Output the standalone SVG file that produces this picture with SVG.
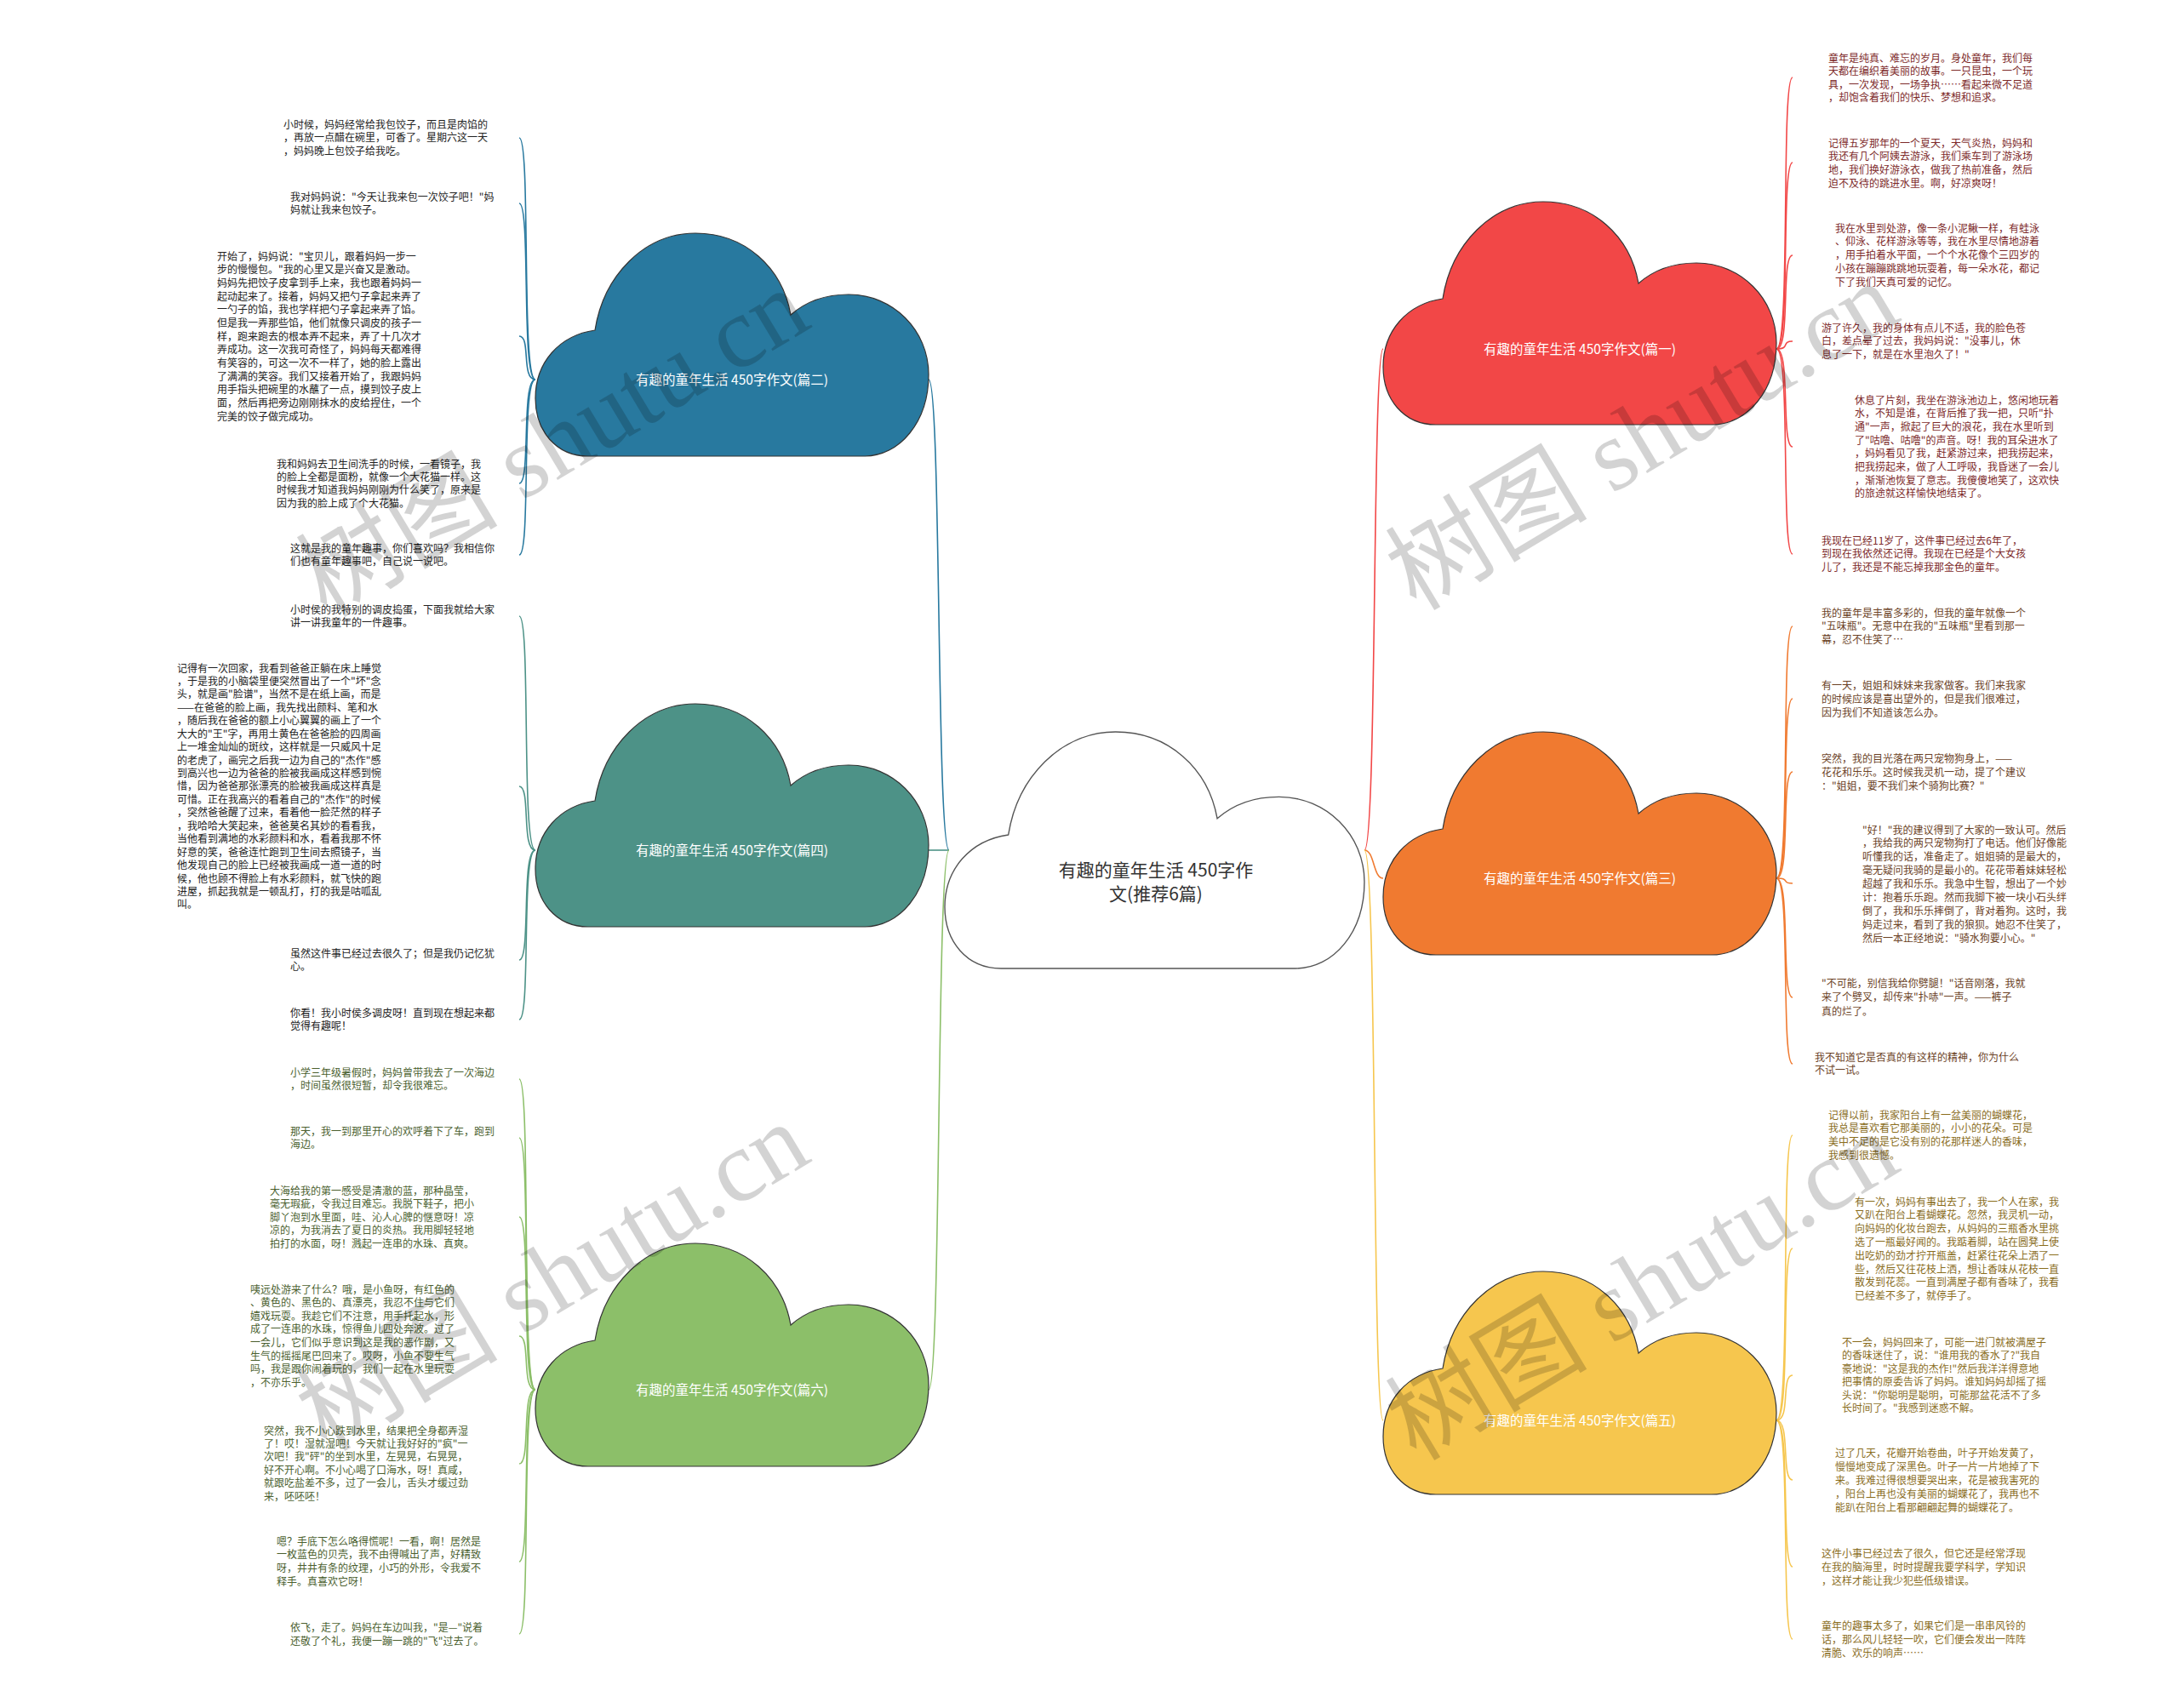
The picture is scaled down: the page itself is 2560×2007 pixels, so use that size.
<svg xmlns="http://www.w3.org/2000/svg" xmlns:xlink="http://www.w3.org/1999/xlink" width="2560" height="2007" viewBox="0 0 2560 2007">
<defs>
<style>
.t{font-family:"Noto Sans CJK SC","Noto Sans",sans-serif;font-size:12px}
.lbl{font-family:"Noto Sans CJK SC","Noto Sans",sans-serif;font-size:15.5px;fill:#fff;text-anchor:middle}
.ctr{font-family:"Noto Sans CJK SC","Noto Sans",sans-serif;font-size:21px;fill:#333;text-anchor:middle}
.cl{stroke:#333;stroke-width:1.2}
.c2{fill:#222}.c4{fill:#222}.c6{fill:#4b5f2f}
.c1{fill:#7d2a2a}.c3{fill:#6b4226}.c5{fill:#8a6d1d}
.ln{fill:none;stroke-width:1.6}
.wm{font-family:"Liberation Serif","Noto Sans CJK SC",serif;font-size:119px;fill:#000;opacity:.17;text-anchor:middle}
</style>
<path id="cloud" d="M 62 262 C 24 262 0 232 0 194 C 0 152 28 120 70 114 C 80 50 128 0 188 0 C 246 0 290 40 300 96 C 318 80 342 72 368 72 C 420 72 462 114 462 166 C 462 222 428 262 386 262 Z"/>
</defs>
<rect width="2560" height="2007" fill="#fff"/>

<g id="connectors">
<path class="ln" stroke="#28799f" stroke-width="2" d="M 1115 999 C 1100 999 1106 446 1091 446"/>
<path class="ln" stroke="#4d9287" stroke-width="2" d="M 1115 999 C 1103 999 1103 999 1091 999"/>
<path class="ln" stroke="#8cbf69" stroke-width="2" d="M 1115 999 C 1100 999 1106 1633 1091 1633"/>
<path class="ln" stroke="#f24747" stroke-width="2" d="M 1603 999 C 1618 999 1612 410 1625 410"/>
<path class="ln" stroke="#f07a30" stroke-width="2" d="M 1603 999 C 1615 999 1613 1032 1625 1032"/>
<path class="ln" stroke="#f6c64e" stroke-width="2" d="M 1603 999 C 1618 999 1612 1669 1625 1669"/>

<g stroke="#28799f" class="ln">
<path d="M 629 446 C 612 446 624 162 610 162"/>
<path d="M 629 446 C 612 446 624 239 610 239"/>
<path d="M 629 446 C 612 446 624 395 610 395"/>
<path d="M 629 446 C 612 446 624 568 610 568"/>
<path d="M 629 446 C 612 446 624 652 610 652"/>
</g>
<g stroke="#4d9287" class="ln">
<path d="M 629 999 C 612 999 624 724 610 724"/>
<path d="M 629 999 C 612 999 624 924 610 924"/>
<path d="M 629 999 C 612 999 624 1128 610 1128"/>
<path d="M 629 999 C 612 999 624 1198 610 1198"/>
</g>
<g stroke="#8cbf69" class="ln">
<path d="M 629 1633 C 612 1633 624 1268 610 1268"/>
<path d="M 629 1633 C 612 1633 624 1337 610 1337"/>
<path d="M 629 1633 C 612 1633 624 1430 610 1430"/>
<path d="M 629 1633 C 612 1633 624 1570 610 1570"/>
<path d="M 629 1633 C 612 1633 624 1720 610 1720"/>
<path d="M 629 1633 C 612 1633 624 1835 610 1835"/>
<path d="M 629 1633 C 612 1633 624 1920 610 1920"/>
</g>
<g stroke="#f24747" class="ln">
<path d="M 2087 410 C 2104 410 2092 91 2106 91"/>
<path d="M 2087 410 C 2104 410 2092 191 2106 191"/>
<path d="M 2087 410 C 2104 410 2092 300 2106 300"/>
<path d="M 2087 410 C 2104 410 2092 401 2106 401"/>
<path d="M 2087 410 C 2104 410 2092 525 2106 525"/>
<path d="M 2087 410 C 2104 410 2092 651 2106 651"/>
</g>
<g stroke="#f07a30" class="ln">
<path d="M 2087 1032 C 2104 1032 2092 736 2106 736"/>
<path d="M 2087 1032 C 2104 1032 2092 821 2106 821"/>
<path d="M 2087 1032 C 2104 1032 2092 907 2106 907"/>
<path d="M 2087 1032 C 2104 1032 2092 1038 2106 1038"/>
<path d="M 2087 1032 C 2104 1032 2092 1172 2106 1172"/>
<path d="M 2087 1032 C 2104 1032 2092 1250 2106 1250"/>
</g>
<g stroke="#f6c64e" class="ln">
<path d="M 2087 1669 C 2104 1669 2092 1334 2106 1334"/>
<path d="M 2087 1669 C 2104 1669 2092 1467 2106 1467"/>
<path d="M 2087 1669 C 2104 1669 2092 1616 2106 1616"/>
<path d="M 2087 1669 C 2104 1669 2092 1739 2106 1739"/>
<path d="M 2087 1669 C 2104 1669 2092 1841 2106 1841"/>
<path d="M 2087 1669 C 2104 1669 2092 1926 2106 1926"/>
</g>
</g>

<g id="center">
<use xlink:href="#cloud" href="#cloud" fill="#fff" stroke="#555" stroke-width="1.3" vector-effect="non-scaling-stroke" transform="translate(1110,860) scale(1.067,1.061)"/>
<text class="ctr" x="1358" y="1030">有趣的童年生活 450字作</text>
<text class="ctr" x="1358" y="1058">文(推荐6篇)</text>
</g>

<g id="node-p2">
<use xlink:href="#cloud" href="#cloud" class="cl" fill="#28799f" transform="translate(629,274)"/>
<text class="lbl" x="860" y="452">有趣的童年生活 450字作文(篇二)</text>
</g>
<g id="node-p4">
<use xlink:href="#cloud" href="#cloud" class="cl" fill="#4d9287" transform="translate(629,827)"/>
<text class="lbl" x="860" y="1005">有趣的童年生活 450字作文(篇四)</text>
</g>
<g id="node-p6">
<use xlink:href="#cloud" href="#cloud" class="cl" fill="#8cbf69" transform="translate(629,1461)"/>
<text class="lbl" x="860" y="1639">有趣的童年生活 450字作文(篇六)</text>
</g>
<g id="node-p1">
<use xlink:href="#cloud" href="#cloud" class="cl" fill="#f24747" transform="translate(1625,237)"/>
<text class="lbl" x="1856" y="416">有趣的童年生活 450字作文(篇一)</text>
</g>
<g id="node-p3">
<use xlink:href="#cloud" href="#cloud" class="cl" fill="#f07a30" transform="translate(1625,860)"/>
<text class="lbl" x="1856" y="1038">有趣的童年生活 450字作文(篇三)</text>
</g>
<g id="node-p5">
<use xlink:href="#cloud" href="#cloud" class="cl" fill="#f6c64e" transform="translate(1625,1494)"/>
<text class="lbl" x="1856" y="1675">有趣的童年生活 450字作文(篇五)</text>
</g>

<g id="t-L1"><text class="t c2"><tspan x="333" y="150.5">小时候，妈妈经常给我包饺子，而且是肉馅的</tspan><tspan x="333" dy="15.6">，再放一点醋在碗里，可香了。星期六这一天</tspan><tspan x="333" dy="15.6">，妈妈晚上包饺子给我吃。</tspan></text></g>
<g id="t-L2"><text class="t c2"><tspan x="341" y="235.5">我对妈妈说："今天让我来包一次饺子吧！"妈</tspan><tspan x="341" dy="15.6">妈就让我来包饺子。</tspan></text></g>
<g id="t-L3"><text class="t c2"><tspan x="255" y="305.5">开始了，妈妈说："宝贝儿，跟着妈妈一步一</tspan><tspan x="255" dy="15.67">步的慢慢包。"我的心里又是兴奋又是激动。</tspan><tspan x="255" dy="15.67">妈妈先把饺子皮拿到手上来，我也跟着妈妈一</tspan><tspan x="255" dy="15.67">起动起来了。接着，妈妈又把勺子拿起来弄了</tspan><tspan x="255" dy="15.67">一勺子的馅，我也学样把勺子拿起来弄了馅。</tspan><tspan x="255" dy="15.67">但是我一弄那些馅，他们就像只调皮的孩子一</tspan><tspan x="255" dy="15.67">样，跑来跑去的根本弄不起来，弄了十几次才</tspan><tspan x="255" dy="15.67">弄成功。这一次我可奇怪了，妈妈每天都难得</tspan><tspan x="255" dy="15.67">有笑容的，可这一次不一样了，她的脸上露出</tspan><tspan x="255" dy="15.67">了满满的笑容。我们又接着开始了，我跟妈妈</tspan><tspan x="255" dy="15.67">用手指头把碗里的水蘸了一点，摸到饺子皮上</tspan><tspan x="255" dy="15.67">面，然后再把旁边刚刚抹水的皮给捏住，一个</tspan><tspan x="255" dy="15.67">完美的饺子做完成功。</tspan></text></g>
<g id="t-L4"><text class="t c2"><tspan x="325" y="549.5">我和妈妈去卫生间洗手的时候，一看镜子，我</tspan><tspan x="325" dy="15.4">的脸上全都是面粉，就像一个大花猫一样。这</tspan><tspan x="325" dy="15.4">时候我才知道我妈妈刚刚为什么笑了，原来是</tspan><tspan x="325" dy="15.4">因为我的脸上成了个大花猫。</tspan></text></g>
<g id="t-L5"><text class="t c2"><tspan x="341" y="648.5">这就是我的童年趣事，你们喜欢吗？我相信你</tspan><tspan x="341" dy="15.6">们也有童年趣事吧，自己说一说吧。</tspan></text></g>
<g id="t-L6"><text class="t c4"><tspan x="341" y="720.5">小时侯的我特别的调皮捣蛋，下面我就给大家</tspan><tspan x="341" dy="15.4">讲一讲我童年的一件趣事。</tspan></text></g>
<g id="t-L7"><text class="t c4"><tspan x="208" y="789.5">记得有一次回家，我看到爸爸正躺在床上睡觉</tspan><tspan x="208" dy="15.44">，于是我的小脑袋里便突然冒出了一个"坏"念</tspan><tspan x="208" dy="15.44">头，就是画"脸谱"，当然不是在纸上画，而是</tspan><tspan x="208" dy="15.44">——在爸爸的脸上画，我先找出颜料、笔和水</tspan><tspan x="208" dy="15.44">，随后我在爸爸的额上小心翼翼的画上了一个</tspan><tspan x="208" dy="15.44">大大的"王"字，再用土黄色在爸爸脸的四周画</tspan><tspan x="208" dy="15.44">上一堆金灿灿的斑纹，这样就是一只威风十足</tspan><tspan x="208" dy="15.44">的老虎了，画完之后我一边为自己的"杰作"感</tspan><tspan x="208" dy="15.44">到高兴也一边为爸爸的脸被我画成这样感到惋</tspan><tspan x="208" dy="15.44">惜，因为爸爸那张漂亮的脸被我画成这样真是</tspan><tspan x="208" dy="15.44">可惜。正在我高兴的看着自己的"杰作"的时候</tspan><tspan x="208" dy="15.44">，突然爸爸醒了过来，看着他一脸茫然的样子</tspan><tspan x="208" dy="15.44">，我哈哈大笑起来，爸爸莫名其妙的看看我，</tspan><tspan x="208" dy="15.44">当他看到满地的水彩颜料和水，看着我那不怀</tspan><tspan x="208" dy="15.44">好意的笑，爸爸连忙跑到卫生间去照镜子，当</tspan><tspan x="208" dy="15.44">他发现自己的脸上已经被我画成一道一道的时</tspan><tspan x="208" dy="15.44">候，他也顾不得脸上有水彩颜料，就飞快的跑</tspan><tspan x="208" dy="15.44">进屋，抓起我就是一顿乱打，打的我是咕呱乱</tspan><tspan x="208" dy="15.44">叫。</tspan></text></g>
<g id="t-L8"><text class="t c4"><tspan x="341" y="1124.5">虽然这件事已经过去很久了；但是我仍记忆犹</tspan><tspan x="341" dy="15.6">心。</tspan></text></g>
<g id="t-L9"><text class="t c4"><tspan x="341" y="1194.5">你看！我小时侯多调皮呀！直到现在想起来都</tspan><tspan x="341" dy="15.4">觉得有趣呢！</tspan></text></g>
<g id="t-L10"><text class="t c6"><tspan x="341" y="1264.5">小学三年级暑假时，妈妈曾带我去了一次海边</tspan><tspan x="341" dy="15.6">，时间虽然很短暂，却令我很难忘。</tspan></text></g>
<g id="t-L11"><text class="t c6"><tspan x="341" y="1333.5">那天，我一到那里开心的欢呼着下了车，跑到</tspan><tspan x="341" dy="15.4">海边。</tspan></text></g>
<g id="t-L12"><text class="t c6"><tspan x="317" y="1403.5">大海给我的第一感受是清澈的蓝，那种晶莹，</tspan><tspan x="317" dy="15.5">毫无瑕疵，令我过目难忘。我脱下鞋子，把小</tspan><tspan x="317" dy="15.5">脚丫泡到水里面，哇、沁人心脾的惬意呀！凉</tspan><tspan x="317" dy="15.5">凉的，为我消去了夏日的炎热。我用脚轻轻地</tspan><tspan x="317" dy="15.5">拍打的水面，呀！溅起一连串的水珠、真爽。</tspan></text></g>
<g id="t-L13"><text class="t c6"><tspan x="294" y="1519.5">咦远处游来了什么？哦，是小鱼呀，有红色的</tspan><tspan x="294" dy="15.6">、黄色的、黑色的、真漂亮，我忍不住与它们</tspan><tspan x="294" dy="15.6">嬉戏玩耍。我趁它们不注意，用手托起水，形</tspan><tspan x="294" dy="15.6">成了一连串的水珠，惊得鱼儿四处奔波。过了</tspan><tspan x="294" dy="15.6">一会儿，它们似乎意识到这是我的恶作剧，又</tspan><tspan x="294" dy="15.6">生气的摇摇尾巴回来了。哎呀，小鱼不要生气</tspan><tspan x="294" dy="15.6">吗，我是跟你闹着玩的，我们一起在水里玩耍</tspan><tspan x="294" dy="15.6">，不亦乐乎。</tspan></text></g>
<g id="t-L14"><text class="t c6"><tspan x="310" y="1685.5">突然，我不小心跌到水里，结果把全身都弄湿</tspan><tspan x="310" dy="15.4">了！哎！湿就湿吧！今天就让我好好的"疯"一</tspan><tspan x="310" dy="15.4">次吧！我"砰"的坐到水里，左晃晃，右晃晃，</tspan><tspan x="310" dy="15.4">好不开心啊。不小心喝了口海水，呀！真咸，</tspan><tspan x="310" dy="15.4">就跟吃盐差不多，过了一会儿，舌头才缓过劲</tspan><tspan x="310" dy="15.4">来，呸呸呸！</tspan></text></g>
<g id="t-L15"><text class="t c6"><tspan x="325" y="1815.5">嗯？手底下怎么咯得慌呢！一看，啊！居然是</tspan><tspan x="325" dy="15.7">一枚蓝色的贝壳，我不由得喊出了声，好精致</tspan><tspan x="325" dy="15.7">呀，井井有条的纹理，小巧的外形，令我爱不</tspan><tspan x="325" dy="15.7">释手。真喜欢它呀！</tspan></text></g>
<g id="t-L16"><text class="t c6"><tspan x="341" y="1916.5">依飞，走了。妈妈在车边叫我，"是—"说着</tspan><tspan x="341" dy="16">还敬了个礼，我便一蹦一跳的"飞"过去了。</tspan></text></g>

<g id="t-R1"><text class="t c1"><tspan x="2148" y="72.5">童年是纯真、难忘的岁月。身处童年，我们每</tspan><tspan x="2148" dy="15.5">天都在编织着美丽的故事。一只昆虫，一个玩</tspan><tspan x="2148" dy="15.5">具，一次发现，一场争执……看起来微不足道</tspan><tspan x="2148" dy="15.5">，却饱含着我们的快乐、梦想和追求。</tspan></text></g>
<g id="t-R2"><text class="t c1"><tspan x="2148" y="172.5">记得五岁那年的一个夏天，天气炎热，妈妈和</tspan><tspan x="2148" dy="15.7">我还有几个阿姨去游泳，我们乘车到了游泳场</tspan><tspan x="2148" dy="15.7">地，我们换好游泳衣，做我了热前准备，然后</tspan><tspan x="2148" dy="15.7">迫不及待的跳进水里。啊，好凉爽呀！</tspan></text></g>
<g id="t-R3"><text class="t c1"><tspan x="2156" y="272.5">我在水里到处游，像一条小泥鳅一样，有蛙泳</tspan><tspan x="2156" dy="15.8">、仰泳、花样游泳等等，我在水里尽情地游着</tspan><tspan x="2156" dy="15.8">，用手拍着水平面，一个个水花像个三四岁的</tspan><tspan x="2156" dy="15.8">小孩在蹦蹦跳跳地玩耍着，每一朵水花，都记</tspan><tspan x="2156" dy="15.8">下了我们天真可爱的记忆。</tspan></text></g>
<g id="t-R4"><text class="t c1"><tspan x="2140" y="389.5">游了许久，我的身体有点儿不适，我的脸色苍</tspan><tspan x="2140" dy="15.6">白，差点晕了过去，我妈妈说："没事儿，休</tspan><tspan x="2140" dy="15.6">息了一下，就是在水里泡久了！"</tspan></text></g>
<g id="t-R5"><text class="t c1"><tspan x="2179" y="474.5">休息了片刻，我坐在游泳池边上，悠闲地玩着</tspan><tspan x="2179" dy="15.7">水，不知是谁，在背后推了我一把，只听"扑</tspan><tspan x="2179" dy="15.7">通"一声，掀起了巨大的浪花，我在水里听到</tspan><tspan x="2179" dy="15.7">了"咕噜、咕噜"的声音。呀！我的耳朵进水了</tspan><tspan x="2179" dy="15.7">，妈妈看见了我，赶紧游过来，把我捞起来，</tspan><tspan x="2179" dy="15.7">把我捞起来，做了人工呼吸，我昏迷了一会儿</tspan><tspan x="2179" dy="15.7">，渐渐池恢复了意志。我傻傻地笑了，这欢快</tspan><tspan x="2179" dy="15.7">的旅途就这样愉快地结束了。</tspan></text></g>
<g id="t-R6"><text class="t c1"><tspan x="2140" y="639.5">我现在已经11岁了，这件事已经过去6年了，</tspan><tspan x="2140" dy="15.6">到现在我依然还记得。我现在已经是个大女孩</tspan><tspan x="2140" dy="15.6">儿了，我还是不能忘掉我那金色的童年。</tspan></text></g>
<g id="t-R7"><text class="t c3"><tspan x="2140" y="724.5">我的童年是丰富多彩的，但我的童年就像一个</tspan><tspan x="2140" dy="15.8">"五味瓶"。无意中在我的"五味瓶"里看到那一</tspan><tspan x="2140" dy="15.8">幕，忍不住笑了…</tspan></text></g>
<g id="t-R8"><text class="t c3"><tspan x="2140" y="809.5">有一天，姐姐和妹妹来我家做客。我们来我家</tspan><tspan x="2140" dy="16">的时候应该是喜出望外的，但是我们很难过，</tspan><tspan x="2140" dy="16">因为我们不知道该怎么办。</tspan></text></g>
<g id="t-R9"><text class="t c3"><tspan x="2140" y="895.5">突然，我的目光落在两只宠物狗身上，——</tspan><tspan x="2140" dy="16">花花和乐乐。这时候我灵机一动，提了个建议</tspan><tspan x="2140" dy="16">："姐姐，要不我们来个骑狗比赛？"</tspan></text></g>
<g id="t-R10"><text class="t c3"><tspan x="2188" y="979.5">"好！"我的建议得到了大家的一致认可。然后</tspan><tspan x="2188" dy="15.9">，我给我的两只宠物狗打了电话。他们好像能</tspan><tspan x="2188" dy="15.9">听懂我的话，准备走了。姐姐骑的是最大的，</tspan><tspan x="2188" dy="15.9">毫无疑问我骑的是最小的。花花带着妹妹轻松</tspan><tspan x="2188" dy="15.9">超越了我和乐乐。我急中生智，想出了一个妙</tspan><tspan x="2188" dy="15.9">计：抱着乐乐跑。然而我脚下被一块小石头绊</tspan><tspan x="2188" dy="15.9">倒了，我和乐乐摔倒了，背对着狗。这时，我</tspan><tspan x="2188" dy="15.9">妈走过来，看到了我的狼狈。她忍不住笑了，</tspan><tspan x="2188" dy="15.9">然后一本正经地说："骑水狗要小心。"</tspan></text></g>
<g id="t-R11"><text class="t c3"><tspan x="2140" y="1159.5">"不可能，别信我给你劈腿！"话音刚落，我就</tspan><tspan x="2140" dy="16.5">来了个劈叉，却传来"扑哧"一声。——裤子</tspan><tspan x="2140" dy="16.5">真的烂了。</tspan></text></g>
<g id="t-R12"><text class="t c3"><tspan x="2132" y="1246.5">我不知道它是否真的有这样的精神，你为什么</tspan><tspan x="2132" dy="15.5">不试一试。</tspan></text></g>
<g id="t-R13"><text class="t c5"><tspan x="2148" y="1314.5">记得以前，我家阳台上有一盆美丽的蝴蝶花，</tspan><tspan x="2148" dy="15.9">我总是喜欢看它那美丽的，小小的花朵。可是</tspan><tspan x="2148" dy="15.9">美中不足的是它没有别的花那样迷人的香味，</tspan><tspan x="2148" dy="15.9">我感到很遗憾。</tspan></text></g>
<g id="t-R14"><text class="t c5"><tspan x="2179" y="1416.5">有一次，妈妈有事出去了，我一个人在家，我</tspan><tspan x="2179" dy="15.8">又趴在阳台上看蝴蝶花。忽然，我灵机一动，</tspan><tspan x="2179" dy="15.8">向妈妈的化妆台跑去，从妈妈的三瓶香水里挑</tspan><tspan x="2179" dy="15.8">选了一瓶最好闻的。我踮着脚，站在圆凳上使</tspan><tspan x="2179" dy="15.8">出吃奶的劲才拧开瓶盖，赶紧往花朵上洒了一</tspan><tspan x="2179" dy="15.8">些，然后又往花枝上洒，想让香味从花枝一直</tspan><tspan x="2179" dy="15.8">散发到花蕊。一直到满屋子都有香味了，我看</tspan><tspan x="2179" dy="15.8">已经差不多了，就停手了。</tspan></text></g>
<g id="t-R15"><text class="t c5"><tspan x="2164" y="1581.5">不一会，妈妈回来了，可能一进门就被满屋子</tspan><tspan x="2164" dy="15.5">的香味迷住了，说："谁用我的香水了?"我自</tspan><tspan x="2164" dy="15.5">豪地说："这是我的杰作!"然后我洋洋得意地</tspan><tspan x="2164" dy="15.5">把事情的原委告诉了妈妈。谁知妈妈却摇了摇</tspan><tspan x="2164" dy="15.5">头说："你聪明是聪明，可能那盆花活不了多</tspan><tspan x="2164" dy="15.5">长时间了。"我感到迷惑不解。</tspan></text></g>
<g id="t-R16"><text class="t c5"><tspan x="2156" y="1711.5">过了几天，花瓣开始卷曲，叶子开始发黄了，</tspan><tspan x="2156" dy="16">慢慢地变成了深黑色。叶子一片一片地掉了下</tspan><tspan x="2156" dy="16">来。我难过得很想要哭出来，花是被我害死的</tspan><tspan x="2156" dy="16">，阳台上再也没有美丽的蝴蝶花了，我再也不</tspan><tspan x="2156" dy="16">能趴在阳台上看那翩翩起舞的蝴蝶花了。</tspan></text></g>
<g id="t-R17"><text class="t c5"><tspan x="2140" y="1829.5">这件小事已经过去了很久，但它还是经常浮现</tspan><tspan x="2140" dy="16">在我的脑海里，时时提醒我要学科学，学知识</tspan><tspan x="2140" dy="16">，这样才能让我少犯些低级错误。</tspan></text></g>
<g id="t-R18"><text class="t c5"><tspan x="2140" y="1914.5">童年的趣事太多了，如果它们是一串串风铃的</tspan><tspan x="2140" dy="16">话，那么风儿轻轻一吹，它们便会发出一阵阵</tspan><tspan x="2140" dy="16">清脆、欢乐的响声……</tspan></text></g>

<g id="watermarks">
<text class="wm" transform="translate(670,555) rotate(-31)">树图 shutu.cn</text>
<text class="wm" transform="translate(670,1535) rotate(-31)">树图 shutu.cn</text>
<text class="wm" transform="translate(1950,547) rotate(-31)">树图 shutu.cn</text>
<text class="wm" transform="translate(1950,1546) rotate(-31)">树图 shutu.cn</text>
</g>
</svg>
